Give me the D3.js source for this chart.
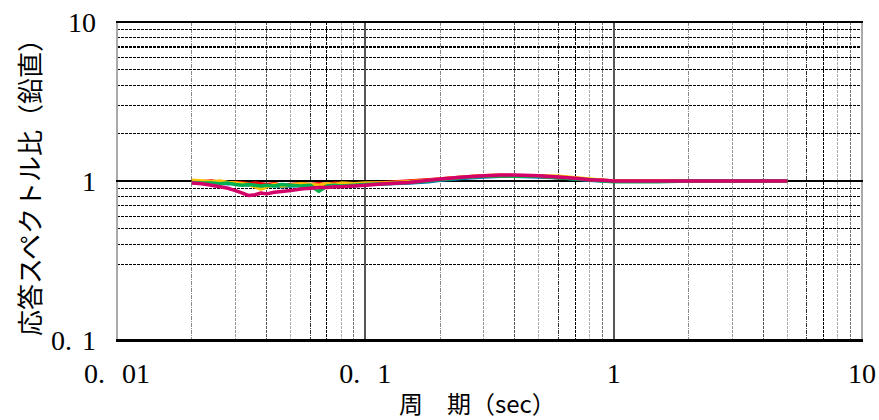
<!DOCTYPE html>
<html><head><meta charset="utf-8">
<script src="https://cdn.jsdelivr.net/npm/d3@7"></script>
<style>html,body{margin:0;padding:0;background:#fff;}svg{display:block;}</style>
</head><body>
<svg id="c" width="879" height="420"></svg>
<script>
// ---- data ----
const periods = [0.02,0.022,0.024,0.026,0.028,0.03,0.032,0.034,0.036,0.038,
  0.04,0.043,0.046,0.05,0.055,0.06,0.065,0.07,0.075,0.08,
  0.09,0.1,0.12,0.15,0.18,0.2,0.25,0.3,0.35,0.4,
  0.5,0.6,0.7,0.8,0.9,1.0,1.5,2,3,4,5];
const seriesRed = [1.00,0.99,1.00,0.98,0.97,0.98,0.97,0.96,0.97,0.96,
  0.95,0.96,0.94,0.95,0.96,0.95,0.96,0.95,0.97,0.96,
  0.95,0.96,0.98,1.00,1.02,1.03,1.06,1.08,1.08,1.08,
  1.07,1.05,1.04,1.02,1.01,1.00,1.00,1.00,1.00,1.00,1.00];
const seriesYellow = [1.01,1.00,0.99,1.00,0.98,0.97,0.96,0.95,0.92,0.89,
  0.92,0.95,0.93,0.94,0.96,0.95,0.94,0.96,0.95,0.97,
  0.96,0.97,0.97,0.99,1.01,1.03,1.06,1.08,1.09,1.08,
  1.08,1.07,1.05,1.03,1.01,1.00,1.00,1.00,1.00,1.00,1.00];
const seriesGreen = [0.98,0.97,0.97,0.96,0.97,0.95,0.94,0.95,0.94,0.93,
  0.94,0.93,0.95,0.94,0.93,0.94,0.86,0.93,0.94,0.93,
  0.94,0.95,0.96,0.98,1.00,1.02,1.05,1.07,1.08,1.07,
  1.07,1.05,1.03,1.02,1.00,0.99,0.99,1.00,1.00,1.00,1.00];
const seriesBlue = [0.99,0.98,0.98,0.97,0.96,0.97,0.96,0.94,0.95,0.94,
  0.93,0.94,0.92,0.93,0.94,0.92,0.93,0.94,0.95,0.94,
  0.93,0.95,0.96,0.97,0.99,1.01,1.04,1.06,1.07,1.07,
  1.06,1.05,1.03,1.01,1.00,1.00,1.00,1.00,1.00,1.00,1.00];
const seriesMagenta = [0.97,0.96,0.94,0.92,0.90,0.87,0.84,0.81,0.82,0.84,
  0.83,0.85,0.86,0.87,0.89,0.90,0.91,0.91,0.92,0.92,
  0.93,0.94,0.96,0.98,1.01,1.03,1.06,1.08,1.09,1.09,
  1.08,1.06,1.04,1.02,1.01,1.00,1.00,1.00,1.00,1.00,1.00];
const seriesColors = ["#0070c0","#ff0000","#ffc000","#00b050","#d4006a"];
const xTickValues = [0.01,0.1,1,10];
const xTickLabels = ["0. 01","0. 1","1","10"];
const yTickValues = [10,1,0.1];
const yTickLabels = ["10","1","0. 1"];
const xMinorGrid = [0.02,0.03,0.04,0.05,0.06,0.07,0.08,0.09,
  0.2,0.3,0.4,0.5,0.6,0.7,0.8,0.9, 2,3,4,5,6,7,8,9];
const yMinorGrid = [0.3,0.4,0.5,0.6,0.7,0.8,0.9, 2,3,4,5,6,7,8,9];
const xTitle = "周　期（sec）";
const yTitle = "応答スペクトル比（鉛直）";

// ---- drawing ----
const svg = d3.select("#c");
const L=117, R=862, T=22, B=340;
const x = d3.scaleLog().domain([0.01,10]).range([L,R]);
const y = d3.scaleLog().domain([0.1,10]).range([B,T]);

const vStyle = {2:["#888","4,1,1,1"],3:["#999","3,1"],4:["#555","3,1"],5:["#aaa","3,1"],
  6:["#333","4,1,1,1"],7:["#000","3,1"],8:["#aaa","3,1"],9:["#777","3,1"]};
const g = svg.append("g").attr("shape-rendering","crispEdges");
xMinorGrid.forEach(v=>{
  const m = Math.round(v/Math.pow(10,Math.floor(Math.log10(v)+1e-9)));
  const s = vStyle[m];
  g.append("line").attr("x1",x(v)).attr("x2",x(v)).attr("y1",T).attr("y2",B)
    .attr("stroke",s[0]).attr("stroke-width",1).attr("stroke-dasharray",s[1]);
});
yMinorGrid.forEach(v=>{
  g.append("line").attr("x1",L).attr("x2",R).attr("y1",y(v)).attr("y2",y(v))
    .attr("stroke","#000").attr("stroke-width",v===7?2:1).attr("stroke-dasharray","3,1");
});
[0.1,1].forEach(v=>{
  g.append("line").attr("x1",x(v)).attr("x2",x(v)).attr("y1",T).attr("y2",B)
    .attr("stroke","#555").attr("stroke-width",2);
});
g.append("line").attr("x1",L).attr("x2",L).attr("y1",T).attr("y2",B).attr("stroke","#aaa").attr("stroke-width",2);
g.append("line").attr("x1",R).attr("x2",R).attr("y1",T).attr("y2",B).attr("stroke","#aaa").attr("stroke-width",2);
[10,1].forEach(v=>{
  g.append("line").attr("x1",L-1).attr("x2",R+1).attr("y1",y(v)).attr("y2",y(v))
    .attr("stroke","#000").attr("stroke-width",2);
});
g.append("line").attr("x1",L-1).attr("x2",R+1).attr("y1",B).attr("y2",B).attr("stroke","#000").attr("stroke-width",3);

// series
const line = d3.line().x((d,i)=>x(periods[i])).y(d=>y(d));
[seriesBlue,seriesRed,seriesYellow,seriesGreen,seriesMagenta].forEach((s,i)=>{
  svg.append("path").attr("d",line(s)).attr("fill","none")
    .attr("stroke",seriesColors[i]).attr("stroke-width",3.5).attr("stroke-linejoin","round");
});

// tick labels
const tf = "'Liberation Serif','DejaVu Serif',serif";
xTickValues.forEach((v,i)=>{
  svg.append("text").attr("x",x(v)).attr("y",373).attr("text-anchor","middle")
    .attr("dominant-baseline","central").attr("font-family",tf).attr("font-size",28)
    .attr("word-spacing","10px").text(xTickLabels[i]);
});
yTickValues.forEach((v,i)=>{
  svg.append("text").attr("x",96).attr("y",y(v)).attr("text-anchor","end")
    .attr("dominant-baseline","central").attr("font-family",tf).attr("font-size",28)
    .attr("word-spacing","3px").text(yTickLabels[i]);
});
// titles
const jf = "'Noto Sans CJK JP','Noto Sans',sans-serif";
svg.append("text").attr("x",399).attr("y",402).attr("dominant-baseline","central")
  .attr("font-family",jf).attr("font-size",24).text(xTitle);
svg.append("text").attr("transform","translate(28,181) rotate(-90)")
  .attr("text-anchor","middle").attr("dominant-baseline","central")
  .attr("font-family",jf).attr("font-size",26).text(yTitle);
</script>
</body></html>
